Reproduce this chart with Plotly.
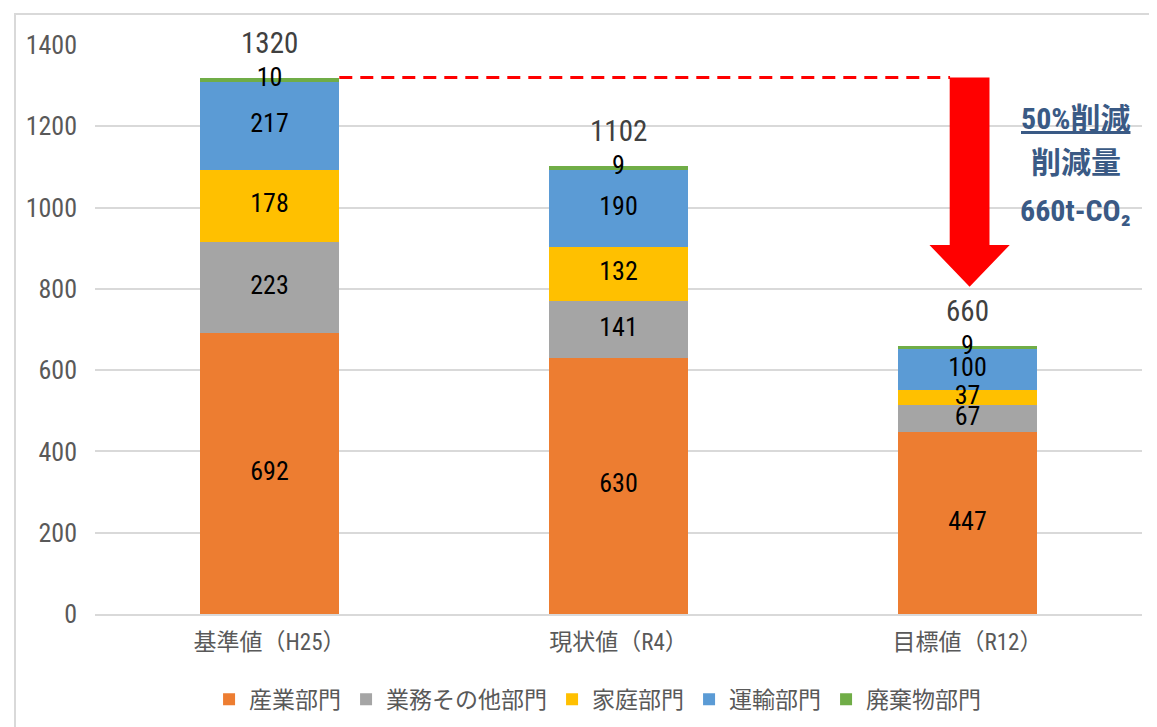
import plotly.graph_objects as go

categories = ["基準値（H25）", "現状値（R4）", "目標値（R12）"]
sectors = ["産業部門", "業務その他部門", "家庭部門", "運輸部門", "廃棄物部門"]
industry = [692, 630, 447]
business = [223, 141, 67]
household = [178, 132, 37]
transport = [217, 190, 100]
waste = [10, 9, 9]
totals = [1320, 1102, 660]
y_ticks = [0, 200, 400, 600, 800, 1000, 1200, 1400]
reduction_note = ["<u>50%削減</u>", "削減量", "660t-CO₂"]

series = [industry, business, household, transport, waste]
colors = ["#ED7D31", "#A5A5A5", "#FFC000", "#5B9BD5", "#70AD47"]

FONT = "Roboto Condensed, Noto Sans CJK JP, sans-serif"

fig = go.Figure()
xi = list(range(len(categories)))
for name, vals, col in zip(sectors, series, colors):
    fig.add_trace(go.Bar(x=xi, y=vals, name=name, marker=dict(color=col, line=dict(width=0)),
                         width=0.4, hoverinfo="skip"))

# segment labels at midpoints
lx, ly, lt = [], [], []
for i in xi:
    base = 0
    for vals in series:
        lx.append(i)
        ly.append(base + vals[i] / 2)
        lt.append(str(vals[i]))
        base += vals[i]
fig.add_trace(go.Scatter(x=lx, y=ly, text=lt, mode="text", showlegend=False,
                         textfont=dict(family=FONT, size=26, color="#000000"),
                         hoverinfo="skip"))

for i, t in zip(xi, totals):
    fig.add_annotation(x=i, y=t, text=str(t), showarrow=False, yanchor="bottom", yshift=16,
                       font=dict(family=FONT, size=29, color="#404040"))

# dashed reference line at base total, from first bar to the arrow
base_total = totals[0]
fig.add_shape(type="line", xref="x", yref="y", x0=0.2, x1=1.95, y0=base_total, y1=base_total,
              line=dict(color="#FF0000", width=3, dash="13px,8px"), layer="above")

# red arrow
ax = 2.006
sw = 0.057
hw = 0.115
shaft_end = 908
tip = 805
path = (f"M {ax-sw},{base_total} L {ax+sw},{base_total} L {ax+sw},{shaft_end} "
        f"L {ax+hw},{shaft_end} L {ax},{tip} L {ax-hw},{shaft_end} L {ax-sw},{shaft_end} Z")
fig.add_shape(type="path", xref="x", yref="y", path=path,
              fillcolor="#FF0000", line=dict(color="#FF0000", width=0), layer="above")

for txt, yv in zip(reduction_note, [1220, 1112, 994]):
    fig.add_annotation(x=2.31, y=yv, text=txt, showarrow=False,
                       font=dict(family=FONT, size=30, color="#3A5A85", weight="bold"))

# outer chart frame
fig.add_shape(type="rect", xref="paper", yref="paper", x0=-0.0764, x1=1.05, y0=-0.25, y1=1.0545,
              line=dict(color="#D9D9D9", width=2), fillcolor="rgba(0,0,0,0)", layer="below")

fig.update_layout(
    width=1157, height=727,
    margin=dict(l=87, r=23, t=37, b=121, autoexpand=False),
    paper_bgcolor="white", plot_bgcolor="white",
    barmode="stack",
    showlegend=True,
    legend=dict(orientation="h", x=0.48, xanchor="center", y=-0.112, yanchor="top",
                font=dict(family=FONT, size=23, color="#595959"),
                itemwidth=30, traceorder="normal"),
    xaxis=dict(tickmode="array", tickvals=xi, ticktext=categories, range=[-0.5, 2.5],
               tickfont=dict(family=FONT, size=23, color="#595959"), showgrid=False,
               showline=True, linecolor="#D9D9D9", linewidth=1.5, automargin=False,
               ticks="outside", ticklen=7, tickcolor="rgba(0,0,0,0)"),
    yaxis=dict(range=[0, 1400], tickvals=y_ticks, showgrid=True, gridcolor="#D9D9D9",
               gridwidth=1.5, zeroline=False, ticks="", ticklabelstandoff=17, automargin=False,
               tickfont=dict(family=FONT, size=26, color="#595959")),
)

fig.write_html("out.html")
